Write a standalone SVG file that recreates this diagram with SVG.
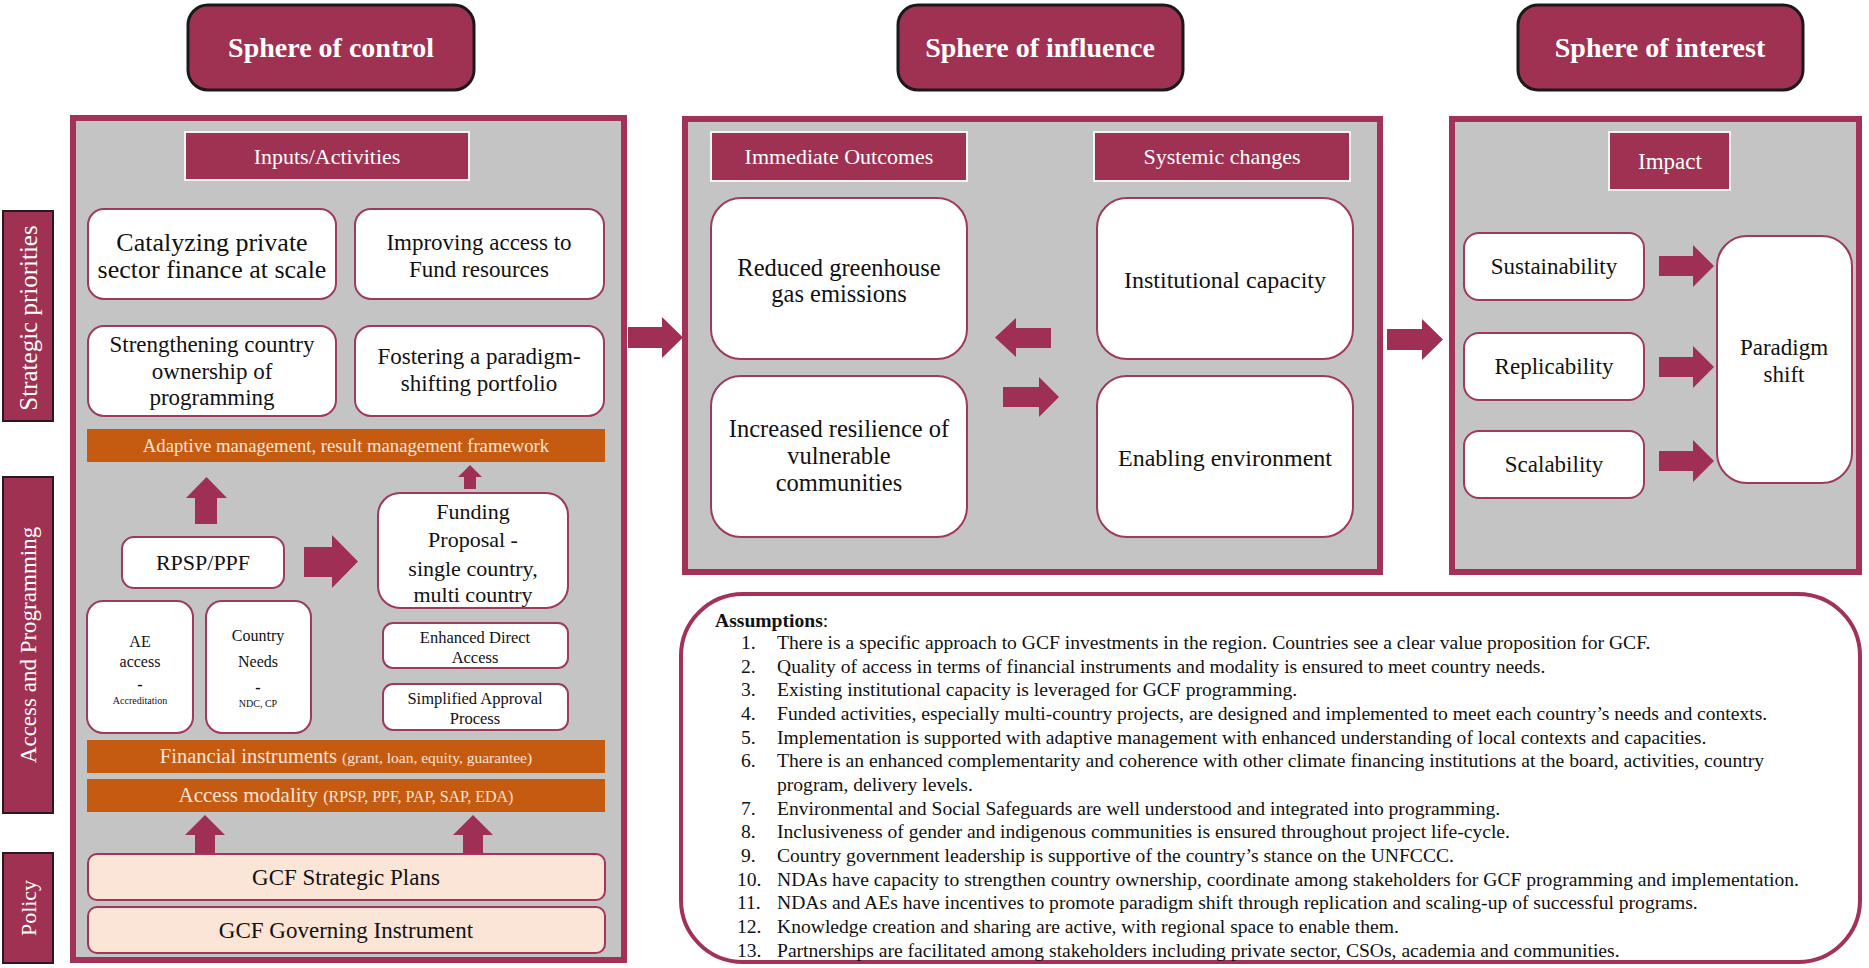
<svg xmlns="http://www.w3.org/2000/svg" width="1869" height="968" viewBox="0 0 1869 968">
<style>
.hdr{fill:#9f3153;stroke:#1a1a1a;stroke-width:3}
.hdrt{font-family:"Liberation Serif",serif;font-weight:bold;font-size:28px;fill:#fff;text-anchor:middle}
.panel{fill:#c4c4c4;stroke:#a2325a;stroke-width:6}
.lab{fill:#9f3153;stroke:#f4f4f4;stroke-width:2}
.labt{font-family:"Liberation Serif",serif;font-size:22px;fill:#fff;text-anchor:middle}
.side{fill:#9f3153;stroke:#2a1a1f;stroke-width:2}
.box{fill:#fff;stroke:#9e3a5c;stroke-width:2}
.t{font-family:"Liberation Serif",serif;font-size:23px;fill:#111;text-anchor:middle}
.tm{font-family:"Liberation Serif",serif;font-size:24.5px;fill:#111;text-anchor:middle}
.ts{font-family:"Liberation Serif",serif;font-size:16px;fill:#111;text-anchor:middle}
.tx{font-family:"Liberation Serif",serif;font-size:10px;fill:#111;text-anchor:middle}
.bar{fill:#c55a11}
.bart{font-family:"Liberation Serif",serif;font-size:20.5px;fill:#fbe5d6;text-anchor:middle}
.peach{fill:#fbe5d6;stroke:#a3345a;stroke-width:2}
.arr{fill:#a02f56}
.asm{fill:#fff;stroke:#a2325a;stroke-width:4}
.at{font-family:"Liberation Serif",serif;font-size:19.6px;fill:#111}
</style>

<g id="header-control"><rect class="hdr" x="188" y="5" width="286" height="85" rx="20"/><text class="hdrt" x="331" y="57">Sphere of control</text></g>
<g id="header-influence"><rect class="hdr" x="898" y="5" width="285" height="85" rx="20"/><text class="hdrt" x="1040" y="57">Sphere of influence</text></g>
<g id="header-interest"><rect class="hdr" x="1518" y="5" width="285" height="85" rx="20"/><text class="hdrt" x="1660" y="57">Sphere of interest</text></g>

<g id="side-strategic"><rect class="side" x="3" y="211" width="50" height="210"/><text class="labt" style="font-size:25px" transform="translate(28,318) rotate(-90)" y="9">Strategic priorities</text></g>
<g id="side-access"><rect class="side" x="3" y="477" width="50" height="336"/><text class="labt" style="font-size:23px" transform="translate(28,645) rotate(-90)" y="8">Access and Programming</text></g>
<g id="side-policy"><rect class="side" x="3" y="853" width="50" height="110"/><text class="labt" transform="translate(28,908) rotate(-90)" y="8">Policy</text></g>

<g id="panel-control"><rect class="panel" x="73" y="118" width="551" height="842"/></g>
<g id="panel-influence"><rect class="panel" x="685" y="119" width="695" height="453"/></g>
<g id="panel-interest"><rect class="panel" x="1452" y="119" width="407" height="453"/></g>

<g id="inputs-activities"><rect class="lab" x="185" y="132" width="284" height="48"/><text class="labt" x="327" y="164">Inputs/Activities</text></g>
<g id="catalyzing"><rect class="box" x="88" y="209" width="248" height="90" rx="16"/><text class="t" style="font-size:26px" x="212" y="251">Catalyzing private</text><text class="t" style="font-size:26px" x="212" y="278">sector finance at scale</text></g>
<g id="improving"><rect class="box" x="355" y="209" width="249" height="90" rx="16"/><text class="t" x="479" y="250">Improving access to</text><text class="t" x="479" y="277">Fund resources</text></g>
<g id="strengthening"><rect class="box" x="88" y="326" width="248" height="90" rx="16"/><text class="t" x="212" y="352">Strengthening country</text><text class="t" x="212" y="379">ownership of</text><text class="t" x="212" y="405">programming</text></g>
<g id="fostering"><rect class="box" x="355" y="326" width="249" height="90" rx="16"/><text class="t" x="479" y="364">Fostering a paradigm-</text><text class="t" x="479" y="391">shifting portfolio</text></g>
<g id="adaptive"><rect class="bar" x="87" y="429" width="518" height="33"/><text class="bart" style="font-size:18.7px" x="346" y="452">Adaptive management, result management framework</text></g>
<g id="rpsp"><rect class="box" x="122" y="537" width="162" height="51" rx="12"/><text class="t" style="font-size:22px" x="203" y="570">RPSP/PPF</text></g>
<g id="funding"><rect class="box" x="378" y="493" width="190" height="115" rx="22"/><text class="t" style="font-size:22px" x="473" y="519">Funding</text><text class="t" style="font-size:22px" x="473" y="547">Proposal -</text><text class="t" style="font-size:22px" x="473" y="576">single country,</text><text class="t" style="font-size:22px" x="473" y="602">multi country</text></g>
<g id="ae-access"><rect class="box" x="87" y="601" width="106" height="132" rx="16"/><text class="ts" x="140" y="647">AE</text><text class="ts" x="140" y="667">access</text><text class="ts" x="140" y="690" font-weight="bold">-</text><text class="tx" x="140" y="704">Accreditation</text></g>
<g id="country-needs"><rect class="box" x="206" y="601" width="105" height="132" rx="16"/><text class="ts" x="258" y="641">Country</text><text class="ts" x="258" y="667">Needs</text><text class="ts" x="258" y="693" font-weight="bold">-</text><text class="tx" x="258" y="707">NDC, CP</text></g>
<g id="eda"><rect class="box" x="383" y="623" width="185" height="45" rx="10"/><text class="ts" x="475" y="643" style="font-size:16.5px">Enhanced Direct</text><text class="ts" x="475" y="663" style="font-size:16.5px">Access</text></g>
<g id="sap"><rect class="box" x="383" y="684" width="185" height="46" rx="10"/><text class="ts" x="475" y="704" style="font-size:16.5px">Simplified Approval</text><text class="ts" x="475" y="724" style="font-size:16.5px">Process</text></g>
<g id="financial"><rect class="bar" x="87" y="740" width="518" height="33"/><text class="bart" x="346" y="763">Financial instruments <tspan style="font-size:15.5px">(grant, loan, equity, guarantee)</tspan></text></g>
<g id="modality"><rect class="bar" x="87" y="779" width="518" height="33"/><text class="bart" style="font-size:21px" x="346" y="802">Access modality <tspan style="font-size:16px">(RPSP, PPF, PAP, SAP, EDA)</tspan></text></g>
<g id="strategic-plans"><rect class="peach" x="88" y="854" width="517" height="46" rx="9"/><text class="t" x="346" y="885">GCF Strategic Plans</text></g>
<g id="governing"><rect class="peach" x="88" y="907" width="517" height="46" rx="9"/><text class="t" x="346" y="938">GCF Governing Instrument</text></g>

<g id="immediate-outcomes"><rect class="lab" x="711" y="132" width="256" height="49"/><text class="labt" x="839" y="164">Immediate Outcomes</text></g>
<g id="systemic-changes"><rect class="lab" x="1094" y="132" width="256" height="49"/><text class="labt" x="1222" y="164">Systemic changes</text></g>
<g id="reduced-ghg"><rect class="box" x="711" y="198" width="256" height="161" rx="30"/><text class="tm" x="839" y="276">Reduced greenhouse</text><text class="tm" x="839" y="302">gas emissions</text></g>
<g id="resilience"><rect class="box" x="711" y="376" width="256" height="161" rx="30"/><text class="tm" x="839" y="437">Increased resilience of</text><text class="tm" x="839" y="464">vulnerable</text><text class="tm" x="839" y="491">communities</text></g>
<g id="institutional"><rect class="box" x="1097" y="198" width="256" height="161" rx="30"/><text class="tm" style="font-size:24px" x="1225" y="288">Institutional capacity</text></g>
<g id="enabling"><rect class="box" x="1097" y="376" width="256" height="161" rx="30"/><text class="tm" style="font-size:24px" x="1225" y="466">Enabling environment</text></g>

<g id="impact"><rect class="lab" x="1609" y="132" width="121" height="58"/><text class="labt" x="1670" y="169" style="font-size:23px">Impact</text></g>
<g id="sustainability"><rect class="box" x="1464" y="233" width="180" height="67" rx="15"/><text class="t" x="1554" y="274">Sustainability</text></g>
<g id="replicability"><rect class="box" x="1464" y="333" width="180" height="67" rx="15"/><text class="t" x="1554" y="374">Replicability</text></g>
<g id="scalability"><rect class="box" x="1464" y="431" width="180" height="67" rx="15"/><text class="t" x="1554" y="472">Scalability</text></g>
<g id="paradigm-shift"><rect class="box" x="1717" y="236" width="135" height="247" rx="30"/><text class="t" x="1784" y="355">Paradigm</text><text class="t" x="1784" y="382">shift</text></g>

<g id="assumptions">
<rect class="asm" x="681" y="594" width="1179" height="368" rx="62"/>
<text class="at" x="715" y="627"><tspan font-weight="bold">Assumptions</tspan>:</text>
<text class="at" x="741" y="649">1.</text><text class="at" x="777" y="649">There is a specific approach to GCF investments in the region. Countries see a clear value proposition for GCF.</text>
<text class="at" x="741" y="673">2.</text><text class="at" x="777" y="673">Quality of access in terms of financial instruments and modality is ensured to meet country needs.</text>
<text class="at" x="741" y="696">3.</text><text class="at" x="777" y="696">Existing institutional capacity is leveraged for GCF programming.</text>
<text class="at" x="741" y="720">4.</text><text class="at" x="777" y="720">Funded activities, especially multi-country projects, are designed and implemented to meet each country’s needs and contexts.</text>
<text class="at" x="741" y="744">5.</text><text class="at" x="777" y="744">Implementation is supported with adaptive management with enhanced understanding of local contexts and capacities.</text>
<text class="at" x="741" y="767">6.</text><text class="at" x="777" y="767">There is an enhanced complementarity and coherence with other climate financing institutions at the board, activities, country</text>
<text class="at" x="777" y="791">program, delivery levels.</text>
<text class="at" x="741" y="815">7.</text><text class="at" x="777" y="815">Environmental and Social Safeguards are well understood and integrated into programming.</text>
<text class="at" x="741" y="838">8.</text><text class="at" x="777" y="838">Inclusiveness of gender and indigenous communities is ensured throughout project life-cycle.</text>
<text class="at" x="741" y="862">9.</text><text class="at" x="777" y="862">Country government leadership is supportive of the country’s stance on the UNFCCC.</text>
<text class="at" x="737" y="886">10.</text><text class="at" x="777" y="886">NDAs have capacity to strengthen country ownership, coordinate among stakeholders for GCF programming and implementation.</text>
<text class="at" x="737" y="909">11.</text><text class="at" x="777" y="909">NDAs and AEs have incentives to promote paradigm shift through replication and scaling-up of successful programs.</text>
<text class="at" x="737" y="933">12.</text><text class="at" x="777" y="933">Knowledge creation and sharing are active, with regional space to enable them.</text>
<text class="at" x="737" y="957">13.</text><text class="at" x="777" y="957">Partnerships are facilitated among stakeholders including private sector, CSOs, academia and communities.</text>
</g>

<g id="connectors">
<polygon class="arr" points="628,327 662,327 662,317 683,337.5 662,358 662,348 628,348"/>
<polygon class="arr" points="1387,329 1422,329 1422,319 1443,339.5 1422,360 1422,350 1387,350"/>
<polygon class="arr" points="1051,328 1016,328 1016,318 995,337.5 1016,357 1016,348 1051,348"/>
<polygon class="arr" points="1003,387 1039,387 1039,377 1059,397 1039,417 1039,407 1003,407"/>
<polygon class="arr" points="1659,256 1693,256 1693,245 1714,266 1693,287 1693,276 1659,276"/>
<polygon class="arr" points="1659,357 1693,357 1693,346 1714,367 1693,388 1693,377 1659,377"/>
<polygon class="arr" points="1659,451 1693,451 1693,440 1714,461 1693,482 1693,471 1659,471"/>
<polygon class="arr" points="195,524 195,498 186,498 206.5,477 227,498 217,498 217,524"/>
<polygon class="arr" points="304,547 332,547 332,535 358,561.5 332,588 332,577 304,577"/>
<polygon class="arr" points="464,489 464,477 458,477 470,465 482,477 476,477 476,489"/>
<polygon class="arr" points="195,853 195,835 185,835 205,815 225,835 215,835 215,853"/>
<polygon class="arr" points="463,853 463,835 453,835 473,815 493,835 483,835 483,853"/>
</g>
</svg>
